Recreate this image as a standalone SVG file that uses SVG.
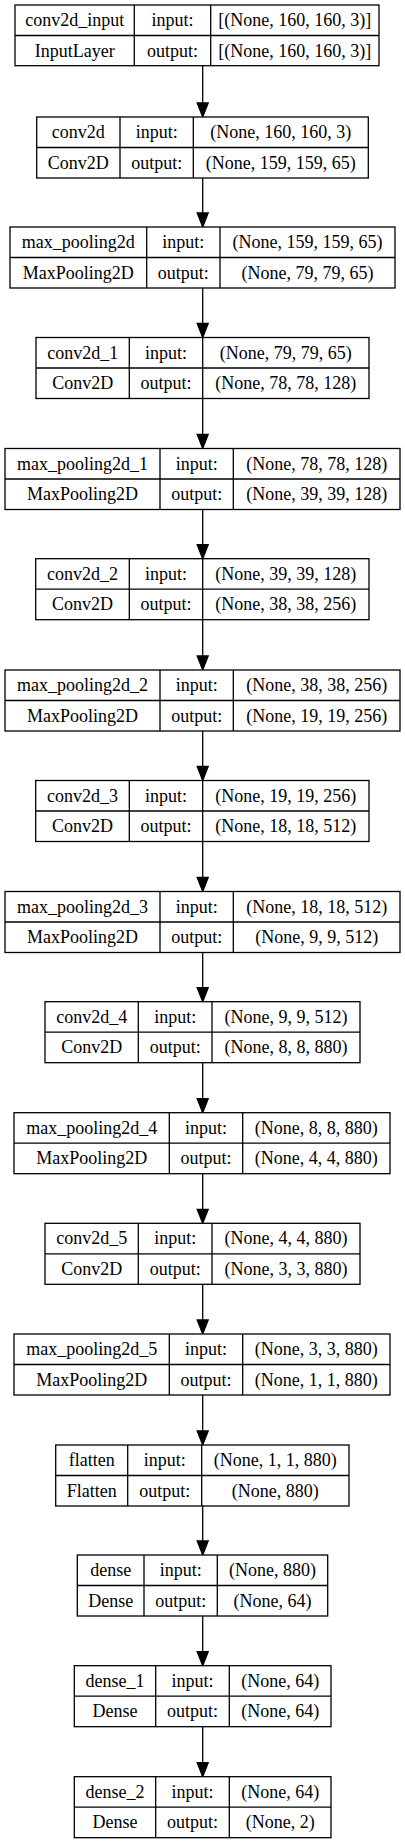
<svg xmlns="http://www.w3.org/2000/svg" width="405" height="1844" viewBox="0 0 405 1844">
<style>
.b{fill:#fff;stroke:#000;stroke-width:1.3}
.l{stroke:#000;stroke-width:1.3}
text{font-family:"Liberation Serif","Times New Roman",serif;font-size:18px;fill:#000;text-anchor:middle}
.e{stroke:#000;stroke-width:1.3;fill:none}
.h{fill:#000;stroke:#000;stroke-width:1.3}
</style>
<rect width="405" height="1844" fill="#fff"/>
<g id="connectors">
<line class="e" x1="202.7" y1="65.7" x2="202.7" y2="103"/><polygon class="h" points="197.2,103 208.2,103 202.7,117"/>
<line class="e" x1="202.7" y1="178" x2="202.7" y2="213"/><polygon class="h" points="197.2,213 208.2,213 202.7,227"/>
<line class="e" x1="202.7" y1="288" x2="202.7" y2="323.5"/><polygon class="h" points="197.2,323.5 208.2,323.5 202.7,337.5"/>
<line class="e" x1="202.7" y1="398.5" x2="202.7" y2="434.5"/><polygon class="h" points="197.2,434.5 208.2,434.5 202.7,448.5"/>
<line class="e" x1="202.7" y1="509.5" x2="202.7" y2="544.7"/><polygon class="h" points="197.2,544.7 208.2,544.7 202.7,558.7"/>
<line class="e" x1="202.7" y1="619.7" x2="202.7" y2="656"/><polygon class="h" points="197.2,656 208.2,656 202.7,670"/>
<line class="e" x1="202.7" y1="731" x2="202.7" y2="766.5"/><polygon class="h" points="197.2,766.5 208.2,766.5 202.7,780.5"/>
<line class="e" x1="202.7" y1="841.5" x2="202.7" y2="877.5"/><polygon class="h" points="197.2,877.5 208.2,877.5 202.7,891.5"/>
<line class="e" x1="202.7" y1="952.5" x2="202.7" y2="987.7"/><polygon class="h" points="197.2,987.7 208.2,987.7 202.7,1001.7"/>
<line class="e" x1="202.7" y1="1062.7" x2="202.7" y2="1098.7"/><polygon class="h" points="197.2,1098.7 208.2,1098.7 202.7,1112.7"/>
<line class="e" x1="202.7" y1="1173.7" x2="202.7" y2="1209.3"/><polygon class="h" points="197.2,1209.3 208.2,1209.3 202.7,1223.3"/>
<line class="e" x1="202.7" y1="1284.3" x2="202.7" y2="1320"/><polygon class="h" points="197.2,1320 208.2,1320 202.7,1334"/>
<line class="e" x1="202.7" y1="1395" x2="202.7" y2="1431"/><polygon class="h" points="197.2,1431 208.2,1431 202.7,1445"/>
<line class="e" x1="202.7" y1="1506" x2="202.7" y2="1541"/><polygon class="h" points="197.2,1541 208.2,1541 202.7,1555"/>
<line class="e" x1="202.7" y1="1616" x2="202.7" y2="1651.7"/><polygon class="h" points="197.2,1651.7 208.2,1651.7 202.7,1665.7"/>
<line class="e" x1="202.7" y1="1726.7" x2="202.7" y2="1762.7"/><polygon class="h" points="197.2,1762.7 208.2,1762.7 202.7,1776.7"/>
</g>
<g id="conv2d_input">
<rect class="b" x="15" y="5" width="364" height="60.7"/>
<line class="l" x1="134.3" y1="5" x2="134.3" y2="65.7"/><line class="l" x1="210.7" y1="5" x2="210.7" y2="65.7"/><line class="l" x1="15" y1="35.5" x2="379" y2="35.5"/>
<text x="74.7" y="26">conv2d_input</text><text x="74.7" y="56.5">InputLayer</text>
<text x="172.5" y="26">input:</text><text x="172.5" y="56.5">output:</text>
<text x="294.8" y="26">[(None, 160, 160, 3)]</text><text x="294.8" y="56.5">[(None, 160, 160, 3)]</text>
</g>
<g id="conv2d">
<rect class="b" x="36.7" y="117" width="331.6" height="61"/>
<line class="l" x1="120" y1="117" x2="120" y2="178"/><line class="l" x1="193.3" y1="117" x2="193.3" y2="178"/><line class="l" x1="36.7" y1="147.5" x2="368.3" y2="147.5"/>
<text x="78.3" y="138">conv2d</text><text x="78.3" y="168.5">Conv2D</text>
<text x="156.7" y="138">input:</text><text x="156.7" y="168.5">output:</text>
<text x="280.8" y="138">(None, 160, 160, 3)</text><text x="280.8" y="168.5">(None, 159, 159, 65)</text>
</g>
<g id="max_pooling2d">
<rect class="b" x="10" y="227" width="385" height="61"/>
<line class="l" x1="146.7" y1="227" x2="146.7" y2="288"/><line class="l" x1="220" y1="227" x2="220" y2="288"/><line class="l" x1="10" y1="257.5" x2="395" y2="257.5"/>
<text x="78.3" y="248">max_pooling2d</text><text x="78.3" y="278.5">MaxPooling2D</text>
<text x="183.3" y="248">input:</text><text x="183.3" y="278.5">output:</text>
<text x="307.5" y="248">(None, 159, 159, 65)</text><text x="307.5" y="278.5">(None, 79, 79, 65)</text>
</g>
<g id="conv2d_1">
<rect class="b" x="36" y="337.5" width="333" height="61"/>
<line class="l" x1="129.3" y1="337.5" x2="129.3" y2="398.5"/><line class="l" x1="202.7" y1="337.5" x2="202.7" y2="398.5"/><line class="l" x1="36" y1="368" x2="369" y2="368"/>
<text x="82.7" y="358.5">conv2d_1</text><text x="82.7" y="389">Conv2D</text>
<text x="166" y="358.5">input:</text><text x="166" y="389">output:</text>
<text x="285.8" y="358.5">(None, 79, 79, 65)</text><text x="285.8" y="389">(None, 78, 78, 128)</text>
</g>
<g id="max_pooling2d_1">
<rect class="b" x="5" y="448.5" width="395" height="61"/>
<line class="l" x1="160" y1="448.5" x2="160" y2="509.5"/><line class="l" x1="233.3" y1="448.5" x2="233.3" y2="509.5"/><line class="l" x1="5" y1="479" x2="400" y2="479"/>
<text x="82.5" y="469.5">max_pooling2d_1</text><text x="82.5" y="500">MaxPooling2D</text>
<text x="196.7" y="469.5">input:</text><text x="196.7" y="500">output:</text>
<text x="316.7" y="469.5">(None, 78, 78, 128)</text><text x="316.7" y="500">(None, 39, 39, 128)</text>
</g>
<g id="conv2d_2">
<rect class="b" x="35.7" y="558.7" width="333.3" height="61"/>
<line class="l" x1="129.3" y1="558.7" x2="129.3" y2="619.7"/><line class="l" x1="202.7" y1="558.7" x2="202.7" y2="619.7"/><line class="l" x1="35.7" y1="589.2" x2="369" y2="589.2"/>
<text x="82.5" y="579.7">conv2d_2</text><text x="82.5" y="610.2">Conv2D</text>
<text x="166" y="579.7">input:</text><text x="166" y="610.2">output:</text>
<text x="285.8" y="579.7">(None, 39, 39, 128)</text><text x="285.8" y="610.2">(None, 38, 38, 256)</text>
</g>
<g id="max_pooling2d_2">
<rect class="b" x="5" y="670" width="395" height="61"/>
<line class="l" x1="160" y1="670" x2="160" y2="731"/><line class="l" x1="233.3" y1="670" x2="233.3" y2="731"/><line class="l" x1="5" y1="700.5" x2="400" y2="700.5"/>
<text x="82.5" y="691">max_pooling2d_2</text><text x="82.5" y="721.5">MaxPooling2D</text>
<text x="196.7" y="691">input:</text><text x="196.7" y="721.5">output:</text>
<text x="316.7" y="691">(None, 38, 38, 256)</text><text x="316.7" y="721.5">(None, 19, 19, 256)</text>
</g>
<g id="conv2d_3">
<rect class="b" x="35.7" y="780.5" width="333.3" height="61"/>
<line class="l" x1="129.3" y1="780.5" x2="129.3" y2="841.5"/><line class="l" x1="202.7" y1="780.5" x2="202.7" y2="841.5"/><line class="l" x1="35.7" y1="811" x2="369" y2="811"/>
<text x="82.5" y="801.5">conv2d_3</text><text x="82.5" y="832">Conv2D</text>
<text x="166" y="801.5">input:</text><text x="166" y="832">output:</text>
<text x="285.8" y="801.5">(None, 19, 19, 256)</text><text x="285.8" y="832">(None, 18, 18, 512)</text>
</g>
<g id="max_pooling2d_3">
<rect class="b" x="5" y="891.5" width="395" height="61"/>
<line class="l" x1="160" y1="891.5" x2="160" y2="952.5"/><line class="l" x1="233.3" y1="891.5" x2="233.3" y2="952.5"/><line class="l" x1="5" y1="922" x2="400" y2="922"/>
<text x="82.5" y="912.5">max_pooling2d_3</text><text x="82.5" y="943">MaxPooling2D</text>
<text x="196.7" y="912.5">input:</text><text x="196.7" y="943">output:</text>
<text x="316.7" y="912.5">(None, 18, 18, 512)</text><text x="316.7" y="943">(None, 9, 9, 512)</text>
</g>
<g id="conv2d_4">
<rect class="b" x="45" y="1001.7" width="315" height="61"/>
<line class="l" x1="138.3" y1="1001.7" x2="138.3" y2="1062.7"/><line class="l" x1="212" y1="1001.7" x2="212" y2="1062.7"/><line class="l" x1="45" y1="1032.2" x2="360" y2="1032.2"/>
<text x="91.7" y="1022.7">conv2d_4</text><text x="91.7" y="1053.2">Conv2D</text>
<text x="175.2" y="1022.7">input:</text><text x="175.2" y="1053.2">output:</text>
<text x="286" y="1022.7">(None, 9, 9, 512)</text><text x="286" y="1053.2">(None, 8, 8, 880)</text>
</g>
<g id="max_pooling2d_4">
<rect class="b" x="14" y="1112.7" width="376" height="61"/>
<line class="l" x1="169.3" y1="1112.7" x2="169.3" y2="1173.7"/><line class="l" x1="242.7" y1="1112.7" x2="242.7" y2="1173.7"/><line class="l" x1="14" y1="1143.2" x2="390" y2="1143.2"/>
<text x="91.7" y="1133.7">max_pooling2d_4</text><text x="91.7" y="1164.2">MaxPooling2D</text>
<text x="206" y="1133.7">input:</text><text x="206" y="1164.2">output:</text>
<text x="316.3" y="1133.7">(None, 8, 8, 880)</text><text x="316.3" y="1164.2">(None, 4, 4, 880)</text>
</g>
<g id="conv2d_5">
<rect class="b" x="45" y="1223.3" width="315" height="61"/>
<line class="l" x1="138.3" y1="1223.3" x2="138.3" y2="1284.3"/><line class="l" x1="212" y1="1223.3" x2="212" y2="1284.3"/><line class="l" x1="45" y1="1253.8" x2="360" y2="1253.8"/>
<text x="91.7" y="1244.3">conv2d_5</text><text x="91.7" y="1274.8">Conv2D</text>
<text x="175.2" y="1244.3">input:</text><text x="175.2" y="1274.8">output:</text>
<text x="286" y="1244.3">(None, 4, 4, 880)</text><text x="286" y="1274.8">(None, 3, 3, 880)</text>
</g>
<g id="max_pooling2d_5">
<rect class="b" x="14" y="1334" width="376" height="61"/>
<line class="l" x1="169.3" y1="1334" x2="169.3" y2="1395"/><line class="l" x1="242.7" y1="1334" x2="242.7" y2="1395"/><line class="l" x1="14" y1="1364.5" x2="390" y2="1364.5"/>
<text x="91.7" y="1355">max_pooling2d_5</text><text x="91.7" y="1385.5">MaxPooling2D</text>
<text x="206" y="1355">input:</text><text x="206" y="1385.5">output:</text>
<text x="316.3" y="1355">(None, 3, 3, 880)</text><text x="316.3" y="1385.5">(None, 1, 1, 880)</text>
</g>
<g id="flatten">
<rect class="b" x="55.7" y="1445" width="293.3" height="61"/>
<line class="l" x1="127.7" y1="1445" x2="127.7" y2="1506"/><line class="l" x1="201.7" y1="1445" x2="201.7" y2="1506"/><line class="l" x1="55.7" y1="1475.5" x2="349" y2="1475.5"/>
<text x="91.7" y="1466">flatten</text><text x="91.7" y="1496.5">Flatten</text>
<text x="164.7" y="1466">input:</text><text x="164.7" y="1496.5">output:</text>
<text x="275.3" y="1466">(None, 1, 1, 880)</text><text x="275.3" y="1496.5">(None, 880)</text>
</g>
<g id="dense">
<rect class="b" x="77.3" y="1555" width="250.4" height="61"/>
<line class="l" x1="144" y1="1555" x2="144" y2="1616"/><line class="l" x1="217.3" y1="1555" x2="217.3" y2="1616"/><line class="l" x1="77.3" y1="1585.5" x2="327.7" y2="1585.5"/>
<text x="110.7" y="1576">dense</text><text x="110.7" y="1606.5">Dense</text>
<text x="180.7" y="1576">input:</text><text x="180.7" y="1606.5">output:</text>
<text x="272.5" y="1576">(None, 880)</text><text x="272.5" y="1606.5">(None, 64)</text>
</g>
<g id="dense_1">
<rect class="b" x="74.3" y="1665.7" width="256.7" height="61"/>
<line class="l" x1="155.7" y1="1665.7" x2="155.7" y2="1726.7"/><line class="l" x1="229.3" y1="1665.7" x2="229.3" y2="1726.7"/><line class="l" x1="74.3" y1="1696.2" x2="331" y2="1696.2"/>
<text x="115" y="1686.7">dense_1</text><text x="115" y="1717.2">Dense</text>
<text x="192.5" y="1686.7">input:</text><text x="192.5" y="1717.2">output:</text>
<text x="280.2" y="1686.7">(None, 64)</text><text x="280.2" y="1717.2">(None, 64)</text>
</g>
<g id="dense_2">
<rect class="b" x="74.3" y="1776.7" width="256.7" height="61"/>
<line class="l" x1="155.7" y1="1776.7" x2="155.7" y2="1837.7"/><line class="l" x1="229.3" y1="1776.7" x2="229.3" y2="1837.7"/><line class="l" x1="74.3" y1="1807.2" x2="331" y2="1807.2"/>
<text x="115" y="1797.7">dense_2</text><text x="115" y="1828.2">Dense</text>
<text x="192.5" y="1797.7">input:</text><text x="192.5" y="1828.2">output:</text>
<text x="280.2" y="1797.7">(None, 64)</text><text x="280.2" y="1828.2">(None, 2)</text>
</g>
</svg>
